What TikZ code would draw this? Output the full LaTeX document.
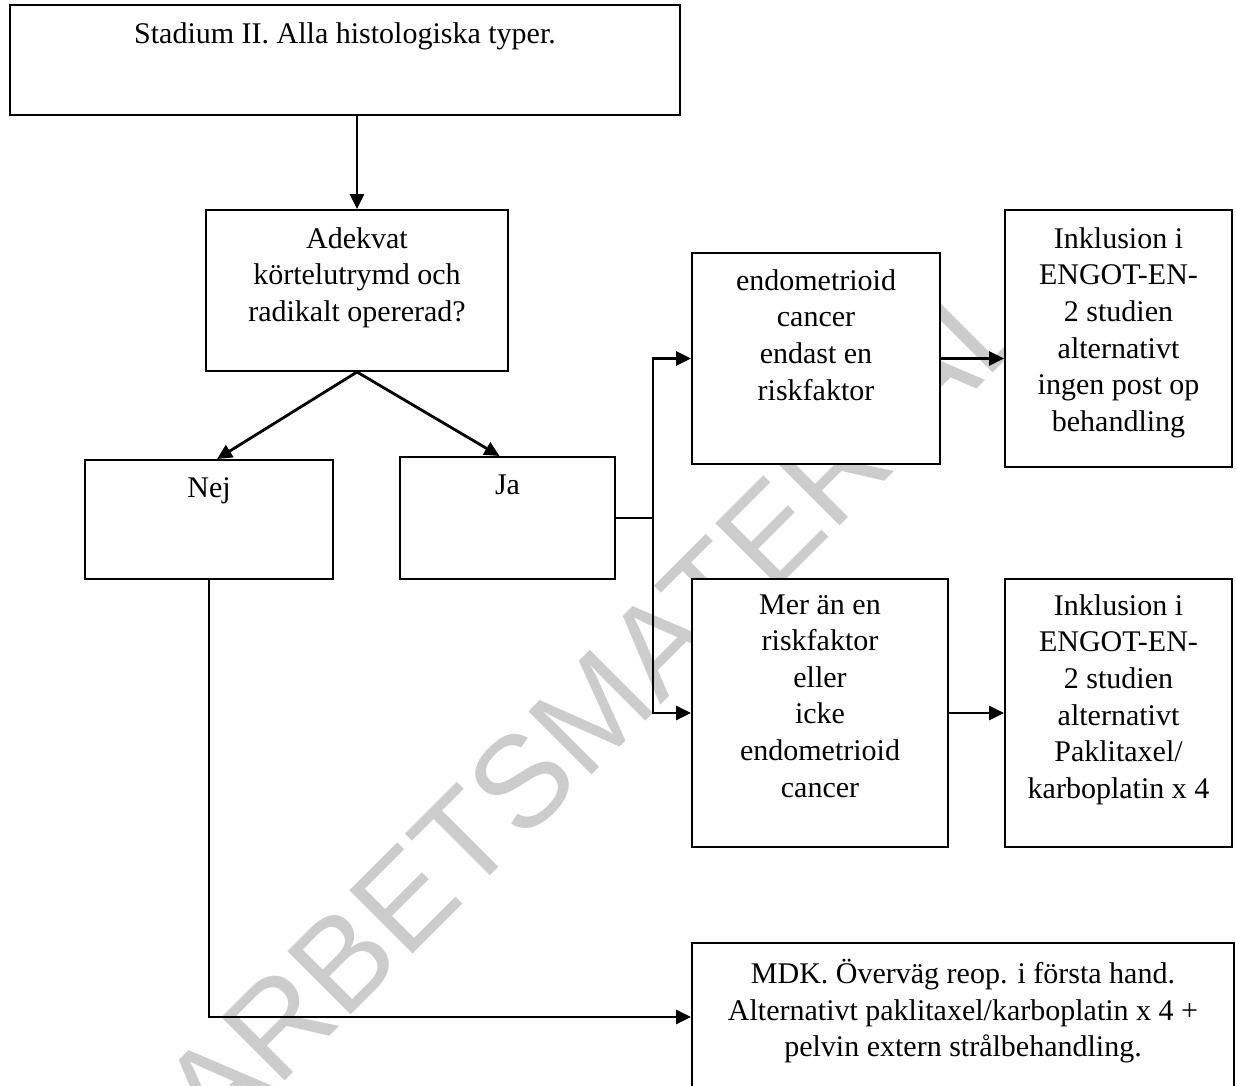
\documentclass[tikz,border=0pt]{standalone}
\usepackage{fontspec}
\setmainfont{Liberation Serif}
\newfontfamily\wmfont{Liberation Sans}
\usetikzlibrary{arrows.meta,positioning,calc}
\definecolor{wmgray}{RGB}{204,204,204}
\tikzset{
  box/.style={draw, line width=1pt, fill=white, rectangle, inner sep=0pt},
  txt/.style={align=center, inner sep=0pt, anchor=north, font=\fontsize{15}{18.3}\selectfont},
  conn/.style={line width=1.4pt},
  arr/.style={conn, -{Triangle[length=7.5pt,width=7pt]}},
}

\begin{document}
\begin{tikzpicture}[x=0.5pt,y=-0.5pt]
    \useasboundingbox (0,0) rectangle (1236,1086);
    % watermark behind everything
    \node[text=wmgray, font=\wmfont\fontsize{65}{65}\selectfont, rotate=45, inner sep=0pt] (wm) at (595,708) {ARBETSMATERIAL};
    % boxes
    \node[box, minimum width=335pt, minimum height=55pt] (stage) at (345,60) {};
    \node[box, minimum width=151pt, minimum height=80.5pt] (adek) at (357,290.5) {};
    \node[box, minimum width=124pt, minimum height=59.5pt] (nej) at (209,519.5) {};
    \node[box, minimum width=107.5pt, minimum height=61pt] (ja) at (507.5,518) {};
    \node[box, minimum width=124pt, minimum height=105.5pt] (endo) at (816,358.5) {};
    \node[box, minimum width=113.5pt, minimum height=128.5pt] (inklA) at (1118.5,338.5) {};
    \node[box, minimum width=128pt, minimum height=134pt] (mer) at (820,713) {};
    \node[box, minimum width=113.5pt, minimum height=134pt] (inklB) at (1118.5,713) {};
    \node[box, minimum width=271pt, minimum height=74pt] (mdk) at (963,1017) {};
    % texts
    \node[txt] (stageT) at ([yshift=-9pt]stage.north) {Stadium II. Alla histologiska typer.};
    \node[txt] (adekT) at ([yshift=-9pt]adek.north) {Adekvat\\ körtelutrymd och\\ radikalt opererad?};
    \node[txt] (nejT) at ([yshift=-9pt]nej.north) {Nej};
    \node[txt] (jaT) at ([yshift=-9pt]ja.north) {Ja};
    \node[txt] (endoT) at ([yshift=-8.5pt]endo.north) {endometrioid\\ cancer\\ endast en\\ riskfaktor};
    \node[txt] (inklAT) at ([yshift=-9pt]inklA.north) {Inklusion i\\ ENGOT-EN-\\ 2 studien\\ alternativt\\ ingen post op\\ behandling};
    \node[txt] (merT) at ([yshift=-8pt]mer.north) {Mer än en\\ riskfaktor\\ eller\\ icke\\ endometrioid\\ cancer};
    \node[txt] (inklBT) at ([yshift=-8pt]inklB.north) {Inklusion i\\ ENGOT-EN-\\ 2 studien\\ alternativt\\ Paklitaxel/\\ karboplatin x 4};
    \node[txt] (mdkT) at ([yshift=-8.5pt]mdk.north) {MDK. Överväg reop. i första hand.\\ Alternativt paklitaxel/karboplatin x 4 +\\ pelvin extern strålbehandling.};
    % connectors
    \draw[arr] (stage.south -| adek.north) -- (adek.north);
    \draw[arr] (adek.south) -- ([xshift=4pt]nej.north);
    \draw[arr] (adek.south) -- ([xshift=-4pt]ja.north);
    \coordinate (split) at (653,518);
    \draw[conn] (ja.east) -- (split);
    \draw[arr] (split) |- (endo.west);
    \draw[arr] (split) |- (mer.west);
    \draw[arr] (endo.east) -- (endo.east -| inklA.west);
    \draw[arr] (mer.east) -- (mer.east -| inklB.west);
    \draw[arr] (nej.south) |- (mdk.west);
\end{tikzpicture}
\end{document}
